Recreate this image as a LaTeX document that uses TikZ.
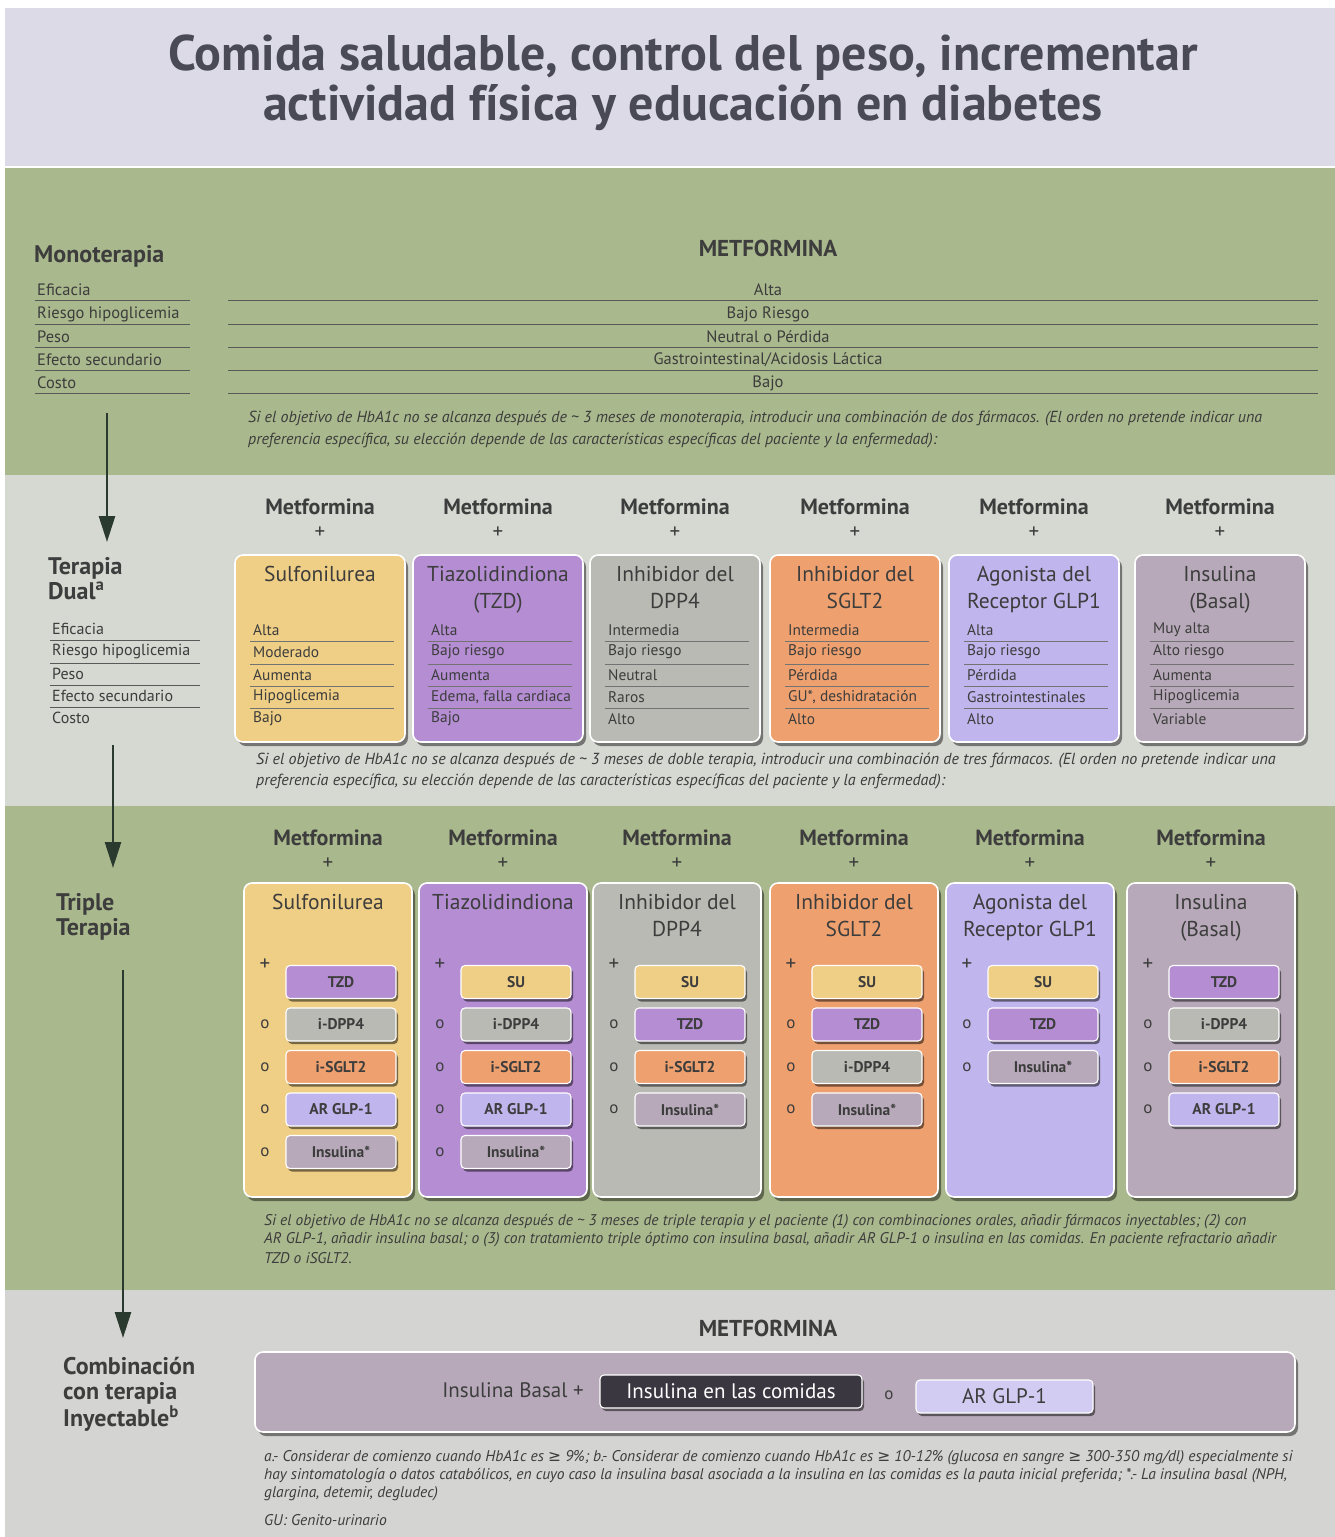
\documentclass[tikz,border=0pt]{standalone}
\usepackage{fontspec}
\setmainfont{PT Sans}
\newfontfamily\symf{DejaVu Sans}
\usetikzlibrary{arrows.meta,shadows}

\definecolor{bgtitle}{HTML}{DCDAE7}
\definecolor{bggreen}{HTML}{AAB88D}
\definecolor{bglight}{HTML}{D6D8D2}
\definecolor{bglighter}{HTML}{D4D5D2}
\definecolor{ink}{HTML}{3C3D3C}
\definecolor{inkt}{HTML}{4A4956}
\definecolor{cyel}{HTML}{EFCE86}
\definecolor{cpur}{HTML}{B48DD3}
\definecolor{cgry}{HTML}{B8BAB3}
\definecolor{cora}{HTML}{EFA06F}
\definecolor{clav}{HTML}{C0B5EC}
\definecolor{cmau}{HTML}{B7A9B9}
\definecolor{clavl}{HTML}{D3CCF2}
\definecolor{dark}{HTML}{3A3741}
\definecolor{arrowc}{HTML}{2B3A2E}

\newcommand\fsz[2]{\fontsize{#1}{#2}\selectfont}
\newcommand\gee{{\symf ≥}}

% one card of the dual-therapy row: name, centre x, colour, title, five rows
\newcommand\dualcard[9]{%
  \node[mhead] (#1-m) at (#2,507) {Metformina};
  \node[plus] (#1-p) at (#2,533) {+};
  \node[card, fill=#3, minimum width=170pt, minimum height=187pt] (#1) at (#2,648.5) {};
  \node[ttl] (#1-t) at (#2,566) {#4};
  \node[rowt] (#1-r1) at (#2-67,630) {#5};
  \node[rowt] (#1-r2) at (#2-67,652) {#6};
  \node[rowt] (#1-r3) at (#2-67,675) {#7};
  \node[rowt] (#1-r4) at (#2-67,697) {#8};
  \node[rowt] (#1-r5) at (#2-67,719) {#9};
  \foreach \ly in {641,664,686,708}{\draw[rowline] (#2-70,\ly) -- (#2+74,\ly);}
}

% one card of the triple-therapy row: name, centre x, colour, title, chips
\newcommand\triplecard[5]{%
  \node[mhead] (#1-m) at (#2,838) {Metformina};
  \node[plus] (#1-p) at (#2,864) {+};
  \node[card, fill=#3, minimum width=168pt, minimum height=314pt] (#1) at (#2,1040) {};
  \node[ttl] (#1-t) at (#2,894) {#4};
  \foreach \cc/\ct [count=\k] in {#5}{%
    \pgfmathsetmacro\yy{982+(\k-1)*42.5}
    \node[chip, fill=\cc] (#1-\k) at (#2+13,\yy) {\ct};
    \ifnum\k=1 \node[plus] (#1-s\k) at (#2-63,965) {+};
    \else \node[sym] (#1-s\k) at (#2-63,\yy) {o};\fi
  }%
}

\begin{document}
\begin{tikzpicture}[x=1pt,y=-1pt,
  every node/.style={text=ink, inner sep=0pt},
  sec/.style={font=\bfseries\fsz{24}{25.5}, align=left, anchor=north west},
  lab/.style={font=\fsz{16.5}{18}, anchor=west},
  labd/.style={font=\fsz{16}{18}, anchor=west},
  labline/.style={draw=black!65, line width=0.7pt},
  mval/.style={font=\fsz{16.5}{18}},
  note/.style={font=\itshape\fsz{16}{18}, anchor=west},
  notes/.style={font=\itshape\fsz{15.5}{18}, anchor=west},
  mhead/.style={font=\bfseries\fsz{22}{24}},
  bighead/.style={font=\bfseries\fsz{23}{25}},
  plus/.style={font=\fsz{21}{23}},
  ttl/.style={font=\fsz{21.5}{27}, align=center, anchor=north},
  rowt/.style={font=\fsz{15.4}{16}, anchor=west},
  rowline/.style={draw=black!55, line width=0.7pt},
  card/.style={rounded corners=8pt, draw=white, line width=1.6pt,
    drop shadow={shadow xshift=3pt, shadow yshift=-4pt, fill=black, opacity=0.45}},
  chip/.style={rounded corners=4pt, draw=white, line width=1.1pt,
    minimum width=110pt, minimum height=33pt, font=\bfseries\fsz{15.5}{17},
    drop shadow={shadow xshift=2pt, shadow yshift=-3pt, fill=black, opacity=0.5}},
  sym/.style={font=\fsz{17}{19}},
  flow/.style={draw=arrowc, line width=2.6pt, -{Triangle[width=16pt,length=26pt]}},
]
\useasboundingbox (0,0) rectangle (1335,1537);

% bands
\fill[white] (0,0) rectangle (1335,1537);
\fill[bgtitle] (5,8) rectangle (1335,167);
\fill[bggreen] (5,167) rectangle (1335,475);
\fill[bglight] (5,475) rectangle (1335,806);
\fill[bggreen] (5,806) rectangle (1335,1290);
\fill[bglighter] (5,1290) rectangle (1335,1537);
\draw[white, line width=1.6pt] (5,167) -- (1335,167);

% title
\node[font=\bfseries\fsz{50}{54}, text=inkt] (title1) at (683,58) {Comida saludable, control del peso, incrementar};
\node[font=\bfseries\fsz{50}{54}, text=inkt] (title2) at (683,108) {actividad física y educación en diabetes};

% monotherapy
\node[sec, anchor=west] (mono) at (34,256) {Monoterapia};
\node[bighead] (metf1) at (768,248) {METFORMINA};
\foreach \ly/\lt/\vt in {290/Eficacia/Alta, 314/Riesgo hipoglicemia/Bajo Riesgo,
  337/Peso/Neutral o Pérdida, 360/Efecto secundario/Gastrointestinal\slash Acidosis Láctica,
  383/Costo/Bajo}{
  \node[lab] at (37,\ly) {\lt};
  \node[mval] at (768,\ly) {\vt};
  \draw[labline] (35,\ly+10) -- (190,\ly+10);
  \draw[labline] (228,\ly+10) -- (1318,\ly+10);
}
\node[note] (n1a) at (248,418) {Si el objetivo de HbA1c no se alcanza después de \textasciitilde\ 3 meses de monoterapia, introducir una combinación de dos fármacos. (El orden no pretende indicar una};
\node[note] (n1b) at (248,440) {preferencia específica, su elección depende de las características específicas del paciente y la enfermedad):};

\coordinate (a1s) at (107,413);
\coordinate (a1e) at (107,542);
\draw[flow] (a1s) -- (a1e);

% dual therapy
\node[sec] (dual) at (48,557) {Terapia\\Dual\textsuperscript{a}};
\foreach \ly/\lt in {629/Eficacia, 652/Riesgo hipoglicemia, 674/Peso, 696/Efecto secundario, 718/Costo}{
  \node[labd] at (52,\ly) {\lt};
}
\foreach \ly in {640,663,685,707}{\draw[labline] (50,\ly) -- (200,\ly);}

\dualcard{d1}{320}{cyel}{Sulfonilurea}{Alta}{Moderado}{Aumenta}{Hipoglicemia}{Bajo}
\dualcard{d2}{498}{cpur}{Tiazolidindiona\\(TZD)}{Alta}{Bajo riesgo}{Aumenta}{Edema, falla cardiaca}{Bajo}
\dualcard{d3}{675}{cgry}{Inhibidor del\\DPP4}{Intermedia}{Bajo riesgo}{Neutral}{Raros}{Alto}
\dualcard{d4}{855}{cora}{Inhibidor del\\SGLT2}{Intermedia}{Bajo riesgo}{Pérdida}{GU*, deshidratación}{Alto}
\dualcard{d5}{1034}{clav}{Agonista del\\Receptor GLP1}{Alta}{Bajo riesgo}{Pérdida}{Gastrointestinales}{Alto}
\dualcard{d6}{1220}{cmau}{Insulina\\(Basal)}{Muy alta}{Alto riesgo}{Aumenta}{Hipoglicemia}{Variable}

\node[note] (n2a) at (256,760) {Si el objetivo de HbA1c no se alcanza después de \textasciitilde\ 3 meses de doble terapia, introducir una combinación de tres fármacos. (El orden no pretende indicar una};
\node[note] (n2b) at (256,781) {preferencia específica, su elección depende de las características específicas del paciente y la enfermedad):};

\coordinate (a2s) at (113,745);
\coordinate (a2e) at (113,868);
\draw[flow] (a2s) -- (a2e);

% triple therapy
\node[sec] (triple) at (56,893) {Triple\\Terapia};

\triplecard{t1}{328}{cyel}{Sulfonilurea}{cpur/TZD, cgry/i-DPP4, cora/i-SGLT2, clav/AR GLP-1, cmau/Insulina*}
\triplecard{t2}{503}{cpur}{Tiazolidindiona}{cyel/SU, cgry/i-DPP4, cora/i-SGLT2, clav/AR GLP-1, cmau/Insulina*}
\triplecard{t3}{677}{cgry}{Inhibidor del\\DPP4}{cyel/SU, cpur/TZD, cora/i-SGLT2, cmau/Insulina*}
\triplecard{t4}{854}{cora}{Inhibidor del\\SGLT2}{cyel/SU, cpur/TZD, cgry/i-DPP4, cmau/Insulina*}
\triplecard{t5}{1030}{clav}{Agonista del\\Receptor GLP1}{cyel/SU, cpur/TZD, cmau/Insulina*}
\triplecard{t6}{1211}{cmau}{Insulina\\(Basal)}{cpur/TZD, cgry/i-DPP4, cora/i-SGLT2, clav/AR GLP-1}

\node[notes] (n3a) at (264,1222) {Si el objetivo de HbA1c no se alcanza después de \textasciitilde\ 3 meses de triple terapia y el paciente (1) con combinaciones orales, añadir fármacos inyectables; (2) con};
\node[notes] (n3b) at (264,1240) {AR GLP-1, añadir insulina basal; o (3) con tratamiento triple óptimo con insulina basal, añadir AR GLP-1 o insulina en las comidas. En paciente refractario añadir};
\node[notes] (n3c) at (264,1258) {TZD o iSGLT2.};

\coordinate (a3s) at (123,970);
\coordinate (a3e) at (123,1338);
\draw[flow] (a3s) -- (a3e);

% injectable combination
\node[sec] (inyect) at (63,1357) {Combinación\\con terapia\\Inyectable\textsuperscript{b}};
\node[bighead] (metf2) at (768,1328) {METFORMINA};
\node[card, fill=cmau, minimum width=1040pt, minimum height=80pt] (inj) at (775,1392) {};
\node[font=\fsz{21}{23}] (ibas) at (513,1390) {Insulina Basal +};
\node[chip, fill=dark, text=white, font=\fsz{21}{23}, minimum width=262pt] (icom) at (731,1391.5) {Insulina en las comidas};
\node[sym] (ior) at (889,1395) {o};
\node[chip, fill=clavl, font=\fsz{21}{23}, minimum width=177pt] (iglp) at (1004.5,1396.5) {AR GLP-1};

% footnotes
\node[notes] (f1) at (264,1458) {a.- Considerar de comienzo cuando HbA1c es \gee\ 9\%; b.- Considerar de comienzo cuando HbA1c es \gee\ 10-12\% (glucosa en sangre \gee\ 300-350 mg/dl) especialmente si};
\node[notes] (f2) at (264,1476) {hay sintomatología o datos catabólicos, en cuyo caso la insulina basal asociada a la insulina en las comidas es la pauta inicial preferida; *.- La insulina basal (NPH,};
\node[notes] (f3) at (264,1494) {glargina, detemir, degludec)};
\node[notes] (f4) at (264,1520) {GU: Genito-urinario};
\end{tikzpicture}
\end{document}
